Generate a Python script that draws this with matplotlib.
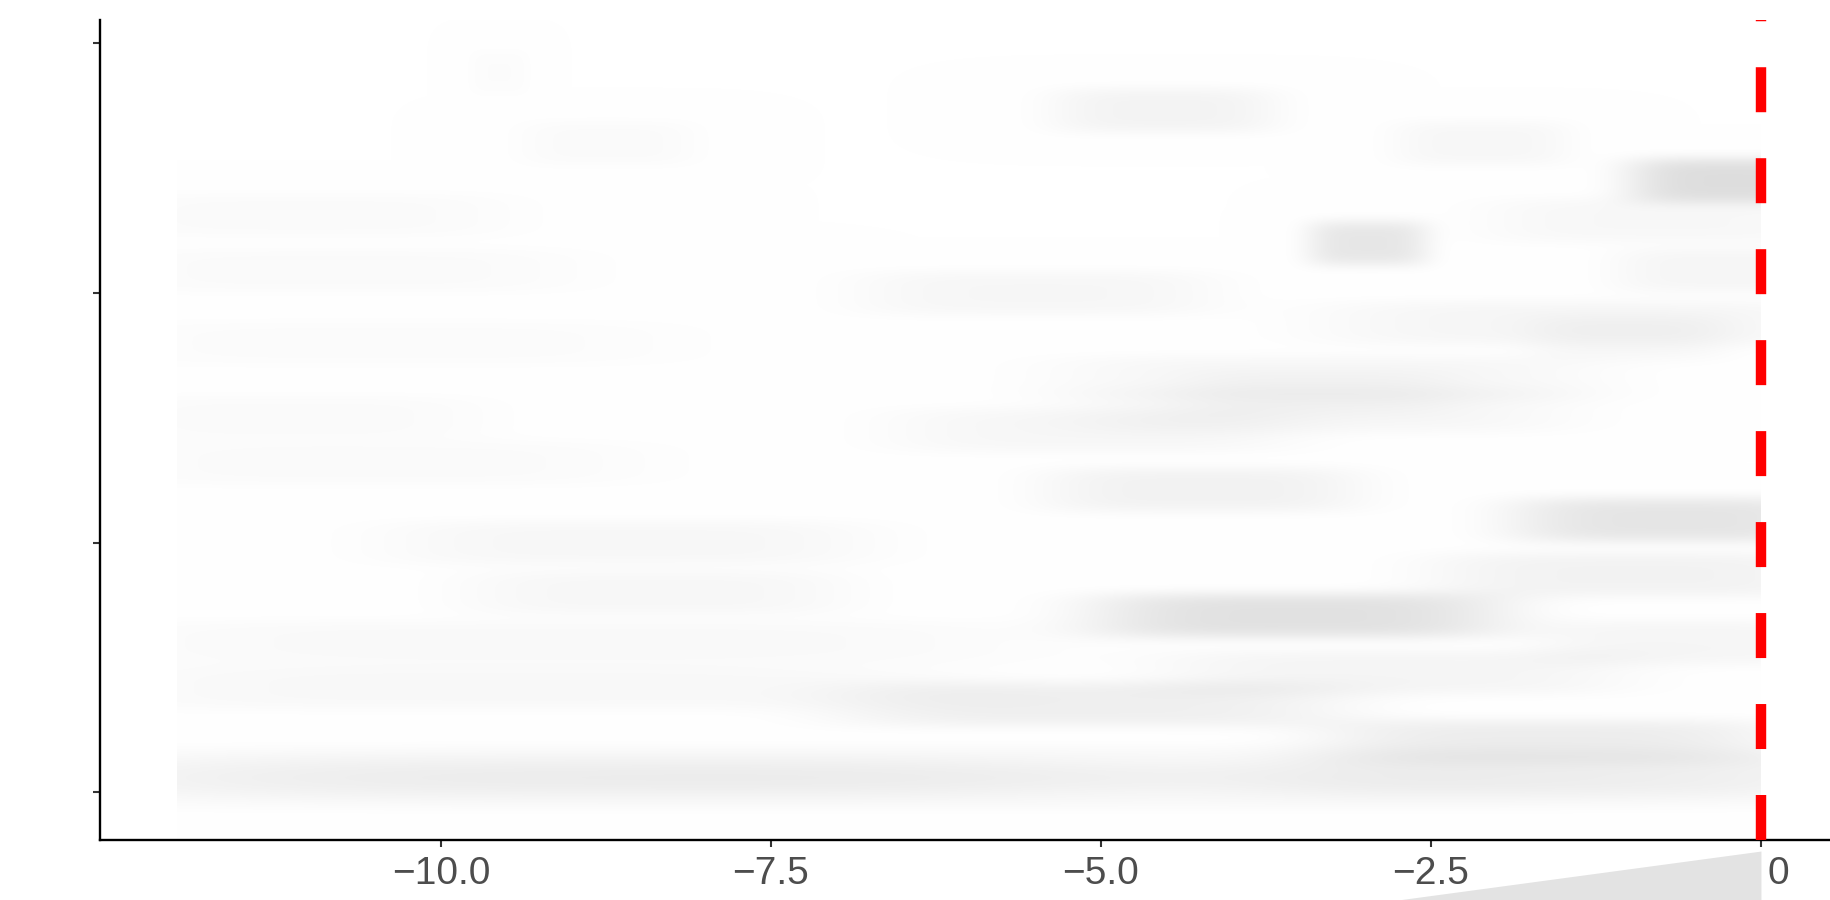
import numpy as np
import matplotlib
matplotlib.use("Agg")
import matplotlib.pyplot as plt
from matplotlib.transforms import ScaledTranslation

plt.rcParams["lines.scale_dashes"] = False

# Gradient interval bands: vertical position, lower / upper extent of each band, peak shade
band_pos = [3.885, 3.733, 3.601, 3.601, 3.452, 3.312, 3.292, 3.200, 3.092, 3.092,
            3.000, 2.880, 2.820, 2.800, 2.660, 2.530, 2.600, 2.500, 2.451, 2.319,
            2.212, 2.091, 1.999, 1.871, 1.799, 1.707, 1.599, 1.599, 1.479, 1.419,
            1.351, 1.199, 1.095, 1.020, 1.060, 1.060]
band_lo = [-9.77, -5.31, -9.36, -2.74, -0.95, -12.5, -2.00, -3.40, -12.5, -1.05,
           -6.75, -3.20, -1.70, -12.5, -5.20, -5.00, -4.30, -12.5, -6.50, -12.5,
           -5.35, -1.80, -10.3, -2.40, -9.75, -4.95, -12.5, -1.60, -4.45, -12.5,
           -6.85, -3.20, -12.5, -12.5, -12.5, -3.60]
band_hi = [-9.35, -3.72, -8.11, -1.48, 0.50, -9.55, 0.50, -2.55, -9.05, 0.50,
           -4.20, 0.50, -0.30, -8.30, -1.40, -1.60, -2.40, -9.75, -3.60, -8.55,
           -3.10, 0.50, -6.85, 0.50, -7.00, -2.05, -5.70, 0.50, -1.15, -6.30,
           -3.30, 0.00, 0.50, 0.50, -5.50, 0.50]
band_shade = [0.012, 0.045, 0.018, 0.030, 0.130, 0.018, 0.028, 0.095, 0.018, 0.035,
              0.032, 0.035, 0.028, 0.014, 0.032, 0.032, 0.022, 0.018, 0.030, 0.018,
              0.050, 0.100, 0.030, 0.048, 0.030, 0.115, 0.022, 0.035, 0.038, 0.026,
              0.060, 0.070, 0.025, 0.025, 0.025, 0.028]

x_ticks = [-10.0, -7.5, -5.0, -2.5, 0.0]
x_tick_labels = ["\u221210.0", "\u22127.5", "\u22125.0", "\u22122.5", "0"]
y_ticks = [1, 2, 3, 4]
ref_x = 0.0
data_range = (-12.0, 0.0)

# outline of the slab in the panel underneath
slab_x = [-12.0, 0.0]
slab_top = [0.572, 1.0]

W, H, DPI = 1830, 900, 100
fig = plt.figure(figsize=(W / DPI, H / DPI), dpi=DPI)
fig.patch.set_facecolor("white")

ax = fig.add_axes([100 / W, 60 / H, 1800 / W, 820 / H])
x_left = -12.583
ax.set_xlim(x_left, x_left + 1800 / 132)
ylo, yhi = 0.8094, 4.0934
ax.set_ylim(ylo, yhi)

# render the bands as one shaded raster over the data range
nx, ny = 1584, 820
gx = np.linspace(data_range[0], data_range[1], nx)
gy = np.linspace(ylo, yhi, ny)
keep = np.ones((ny, nx))
half_h = 0.085
ln2 = np.log(2.0)
for pos, lo, hi, shade in zip(band_pos, band_lo, band_hi, band_shade):
    c = 0.5 * (lo + hi)
    w = 0.5 * (hi - lo)
    fx = np.exp(-ln2 * np.abs((gx - c) / w) ** 4)
    fy = np.exp(-ln2 * np.abs((gy - pos) / half_h) ** 4)
    keep *= 1.0 - shade * np.outer(fy, fx)
rgb = np.dstack([keep, keep, keep])
ax.imshow(rgb, extent=(data_range[0], data_range[1], ylo, yhi), origin="lower",
          aspect="auto", interpolation="bilinear", zorder=1)

ax.axvline(ref_x, color="#ff0000", lw=7.5, linestyle=(0, (32.4, 33.1)), zorder=3)

for s in ["top", "right"]:
    ax.spines[s].set_visible(False)
for s in ["left", "bottom"]:
    ax.spines[s].set_linewidth(1.7)
    ax.spines[s].set_color("black")

ax.set_yticks(y_ticks)
ax.set_yticklabels([])
ax.set_xticks(x_ticks)
ax.set_xticklabels(x_tick_labels, fontfamily="Liberation Sans", fontsize=28,
                   color="#4d4d4d")
ax.tick_params(axis="both", length=5.2, width=1.5, color="#333333")
ax.tick_params(axis="x", pad=6)
lab0 = ax.get_xticklabels()[-1]
lab0.set_transform(lab0.get_transform() + ScaledTranslation(0.17, 0, fig.dpi_scale_trans))

# lower panel, mostly outside the figure
ax2 = fig.add_axes([100 / W, -0.5, 1800 / W, 0.5544])
ax2.set_xlim(ax.get_xlim())
ax2.set_ylim(0, 1)
ax2.fill_between(slab_x, 0, slab_top, color="#e3e3e3", lw=0)
ax2.axis("off")
ax2.set_zorder(0)
ax.set_zorder(1)
ax.patch.set_alpha(0)

fig.savefig("out.png", dpi=DPI, facecolor="white")
